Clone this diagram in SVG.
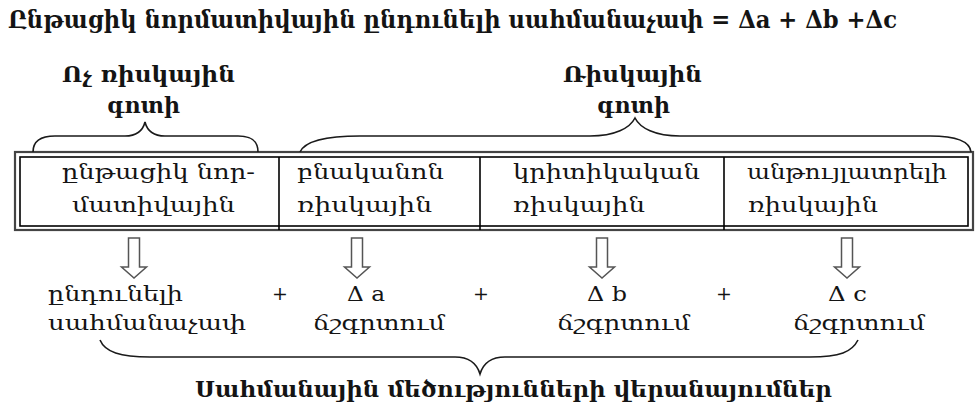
<svg xmlns="http://www.w3.org/2000/svg" width="980" height="405" viewBox="0 0 980 405">
<style>
text{font-family:"DejaVu Serif","Noto Serif",serif;fill:#141414}
.b{font-weight:bold}
.t{font-size:24px}
.z{font-size:23px}
.c{font-size:21px}
.r{font-size:21px}
.p{font-size:19px}
.brace{fill:none;stroke:#1a1a1a;stroke-width:1.6}
.arrow{fill:#fff;stroke:#555;stroke-width:1.5;stroke-linejoin:miter}
.frame-o{fill:none;stroke:#444;stroke-width:2.2}
.frame-i{fill:none;stroke:#000;stroke-width:1.6}
.div{stroke:#000;stroke-width:1.6}
</style>
<rect width="980" height="405" fill="#fff"/>
<g id="title">
<text class="b t" x="8" y="28" textLength="889" lengthAdjust="spacingAndGlyphs">Ընթացիկ նորմատիվային ընդունելի սահմանաչափ = Δa + Δb +Δc</text>
</g>
<g id="zone-nonrisk">
<text class="b z" x="62" y="82" textLength="173" lengthAdjust="spacingAndGlyphs">Ոչ ռիսկային</text>
<text class="b z" x="107" y="113" textLength="73" lengthAdjust="spacingAndGlyphs">գոտի</text>
</g>
<g id="zone-risk">
<text class="b z" x="563" y="82" textLength="139" lengthAdjust="spacingAndGlyphs">Ռիսկային</text>
<text class="b z" x="597" y="113" textLength="73" lengthAdjust="spacingAndGlyphs">գոտի</text>
</g>
<g id="table">
<rect class="frame-o" x="15" y="152" width="958" height="78"/>
<rect class="frame-i" x="20" y="157" width="948" height="69"/>
<line class="div" x1="279" y1="157" x2="279" y2="230"/>
<line class="div" x1="480" y1="157" x2="480" y2="230"/>
<line class="div" x1="724" y1="157" x2="724" y2="230"/>
</g>
<g id="cell-normative">
<text class="c" x="62" y="179" textLength="193" lengthAdjust="spacingAndGlyphs">ընթացիկ նոր-</text>
<text class="c" x="72" y="212" textLength="163" lengthAdjust="spacingAndGlyphs">մատիվային</text>
</g>
<g id="cell-normal">
<text class="c" x="297" y="179" textLength="147" lengthAdjust="spacingAndGlyphs">բնականոն</text>
<text class="c" x="297" y="212" textLength="135" lengthAdjust="spacingAndGlyphs">ռիսկային</text>
</g>
<g id="cell-critical">
<text class="c" x="513" y="179" textLength="187" lengthAdjust="spacingAndGlyphs">կրիտիկական</text>
<text class="c" x="513" y="212" textLength="132" lengthAdjust="spacingAndGlyphs">ռիսկային</text>
</g>
<g id="cell-unacceptable">
<text class="c" x="747" y="179" textLength="200" lengthAdjust="spacingAndGlyphs">անթույլատրելի</text>
<text class="c" x="748" y="212" textLength="130" lengthAdjust="spacingAndGlyphs">ռիսկային</text>
</g>
<g id="res-limit">
<text class="r" x="48" y="301" textLength="135" lengthAdjust="spacingAndGlyphs">ընդունելի</text>
<text class="r" x="48" y="330" textLength="198" lengthAdjust="spacingAndGlyphs">սահմանաչափ</text>
</g>
<g id="res-a">
<text class="r" x="347" y="301" textLength="38" lengthAdjust="spacingAndGlyphs">Δ a</text>
<text class="r" x="313" y="330" textLength="132" lengthAdjust="spacingAndGlyphs">ճշգրտում</text>
</g>
<g id="res-b">
<text class="r" x="587" y="301" textLength="40" lengthAdjust="spacingAndGlyphs">Δ b</text>
<text class="r" x="557" y="330" textLength="133" lengthAdjust="spacingAndGlyphs">ճշգրտում</text>
</g>
<g id="res-c">
<text class="r" x="828" y="301" textLength="39" lengthAdjust="spacingAndGlyphs">Δ c</text>
<text class="r" x="793" y="330" textLength="132" lengthAdjust="spacingAndGlyphs">ճշգրտում</text>
</g>
<g id="plus-signs">
<text class="p" x="280" y="300" text-anchor="middle">+</text>
<text class="p" x="481" y="300" text-anchor="middle">+</text>
<text class="p" x="724" y="300" text-anchor="middle">+</text>
</g>
<g id="bottom-label">
<text class="b z" x="195" y="397" textLength="637" lengthAdjust="spacingAndGlyphs">Սահմանային մեծությունների վերանայումներ</text>
</g>
<g id="connectors">
<path class="brace" d="M33,152 C33,141 40,136 55,136 L125,136 C138,136 143,130 145,122 C147,130 152,136 165,136 L238,136 C252,136 258,141 258,152"/>
<path class="brace" d="M300,152 C305,141 325,136 360,136 L590,136 C615,136 630,128 635,118 C640,128 655,136 680,136 L930,136 C958,136 970,142 971,152"/>
<path class="brace" d="M100,340 C105,352 120,357 150,357 L455,357 C470,357 477,364 480,374 C483,364 490,357 505,357 L810,357 C840,357 852,352 858,340"/>
<path class="arrow" d="M128.5,238 V267 H121.5 L134,278 L146.5,267 H139.5 V238 Z"/>
<path class="arrow" d="M351.5,238 V267 H344.5 L357,278 L369.5,267 H362.5 V238 Z"/>
<path class="arrow" d="M596.5,238 V267 H589.5 L602,278 L614.5,267 H607.5 V238 Z"/>
<path class="arrow" d="M841.5,238 V267 H834.5 L847,278 L859.5,267 H852.5 V238 Z"/>
</g>
</svg>
